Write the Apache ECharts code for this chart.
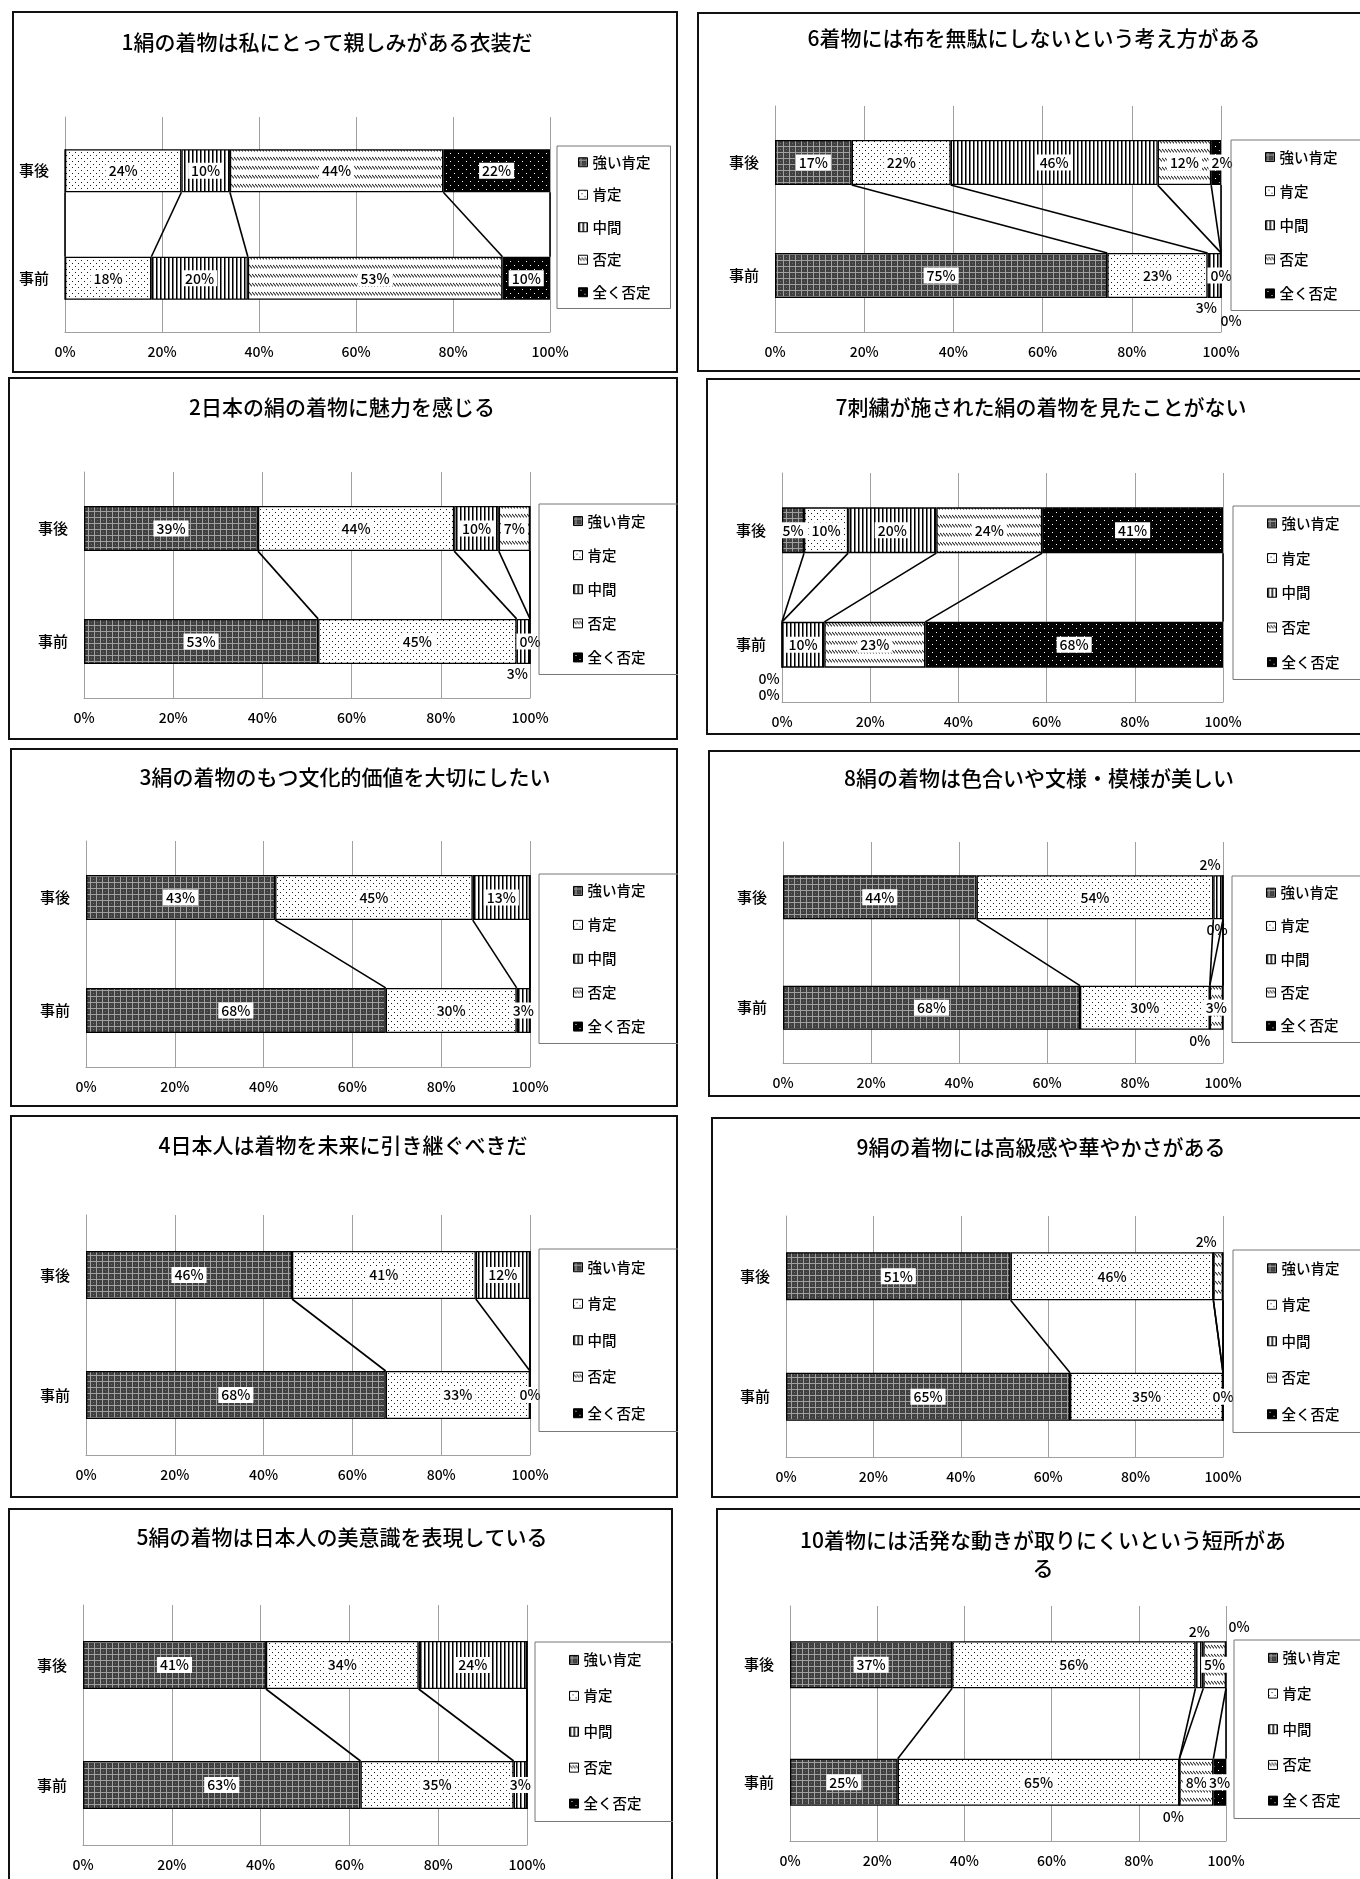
<!DOCTYPE html>
<html><head><meta charset="utf-8">
<script src="https://cdn.jsdelivr.net/npm/echarts@6/dist/echarts.min.js"></script>
<style>
html,body{margin:0;padding:0;background:#fff;width:1360px;height:1879px;overflow:hidden;position:relative}
.frame{position:absolute;border:2px solid #111;box-sizing:border-box}
.chart{position:absolute}
</style></head><body>
<script>
// ---------- data ----------
const categories = ['事前', '事後'];
const seriesNames = ['強い肯定', '肯定', '中間', '否定', '全く否定'];
const xTicks = [0, 20, 40, 60, 80, 100];
const titles = [
  '1絹の着物は私にとって親しみがある衣装だ',
  '2日本の絹の着物に魅力を感じる',
  '3絹の着物のもつ文化的価値を大切にしたい',
  '4日本人は着物を未来に引き継ぐべきだ',
  '5絹の着物は日本人の美意識を表現している',
  '6着物には布を無駄にしないという考え方がある',
  '7刺繍が施された絹の着物を見たことがない',
  '8絹の着物は色合いや文様・模様が美しい',
  '9絹の着物には高級感や華やかさがある',
  '10着物には活発な動きが取りにくいという短所があ\nる'
];
// values in order: 強い肯定, 肯定, 中間, 否定, 全く否定 (%)
const q1After  = [0, 24, 10, 44, 22];
const q1Before = [0, 17.8, 19.9, 52.5, 9.8];
const q2After  = [39, 44, 10, 7, 0];
const q2Before = [52.5, 44.5, 3, 0, 0];
const q3After  = [42.6, 44.5, 12.9, 0, 0];
const q3Before = [67.5, 29.5, 3, 0, 0];
const q4After  = [46.4, 41.4, 12.2, 0, 0];
const q4Before = [67.5, 32.5, 0, 0, 0];
const q5After  = [41.2, 34.4, 24.4, 0, 0];
const q5Before = [62.5, 34.5, 3, 0, 0];
const q6After  = [17.2, 22.2, 46.4, 12.0, 2.2];
const q6Before = [74.5, 22.5, 3, 0, 0];
const q7After  = [5, 10, 20, 24, 41];
const q7Before = [0, 0, 9.6, 22.9, 67.5];
const q8After  = [44, 53.8, 2.2, 0, 0];
const q8Before = [67.5, 29.5, 0, 3, 0];
const q9After  = [51.4, 46.4, 0, 2.2, 0];
const q9Before = [65, 35, 0, 0, 0];
const q10After  = [37.2, 55.8, 1.8, 5.2, 0];
const q10Before = [24.7, 64.6, 0, 7.8, 2.9];

const afterValues  = [q1After, q2After, q3After, q4After, q5After, q6After, q7After, q8After, q9After, q10After];
const beforeValues = [q1Before, q2Before, q3Before, q4Before, q5Before, q6Before, q7Before, q8Before, q9Before, q10Before];

// ---------- layout / style ----------
const F = '"Noto Sans CJK JP", "Noto Sans", sans-serif';
// f: frame [x,y,w,h]; p: plot [left,right,top,bottom]; t: title centre; lg: legend [x,y,w,h,padLeft]
const layout = [
  {f:[12,11,666,362],  p:[65,550,117,332],    t:[327,42],    lg:[557,146,113,160,21]},
  {f:[8,377,670,363],  p:[84,530,472,698],    t:[342,407],   lg:[539,504,145,168,34]},
  {f:[10,748,668,359], p:[86,530,841,1067],   t:[345,777],   lg:[539,874,145,167,34]},
  {f:[10,1115,668,383],p:[86,530,1215,1455],  t:[343,1145],  lg:[539,1249,145,180,34]},
  {f:[8,1508,665,380], p:[83,527,1605,1845],  t:[342,1537],  lg:[535,1642,139,177,34]},
  {f:[697,12,670,360], p:[775,1221,106,332],  t:[1034,38],   lg:[1231,140,140,168,34]},
  {f:[706,378,660,357],p:[782,1223,473,702],  t:[1041,407],  lg:[1233,506,140,171,34]},
  {f:[708,750,660,347],p:[783,1223,842,1063], t:[1039,778],  lg:[1232,876,140,164,34]},
  {f:[711,1117,660,381],p:[786,1223,1216,1457],t:[1041,1147],lg:[1233,1250,140,180,34]},
  {f:[716,1508,660,380],p:[790,1226,1606,1841],t:[1043,1554],lg:[1234,1640,140,176,34]}
];
// label placement tweaks, key = categoryIndex-seriesIndex (0 = 事前, 1 = 事後)
const labelTweaks = [
  {},
  {'0-2':{pos:'bottom',dx:-6}, '0-3':{pos:'inside'}},
  {'0-2':{pos:'inside'}},
  {'0-2':{pos:'inside'}},
  {'0-2':{pos:'inside'}},
  {'1-4':{pos:'inside',dx:6}, '0-2':{pos:'bottom',dx:-8}, '0-3':{pos:'inside'}, '0-4':{pos:'bottom',dx:10,dy:12}},
  {'0-0':{pos:'bottom',dx:-13}, '0-1':{pos:'bottom',dx:-13,dy:16}},
  {'1-2':{pos:'top',dx:-8}, '1-3':{pos:'bottom',dx:-6}, '0-2':{pos:'bottom',dx:-10}},
  {'1-3':{pos:'top',dx:-12}, '0-2':{pos:'inside'}},
  {'1-2':{pos:'top'}, '1-4':{pos:'top',dx:13,dy:-4}, '0-2':{pos:'bottom',dx:-6}}
];

function makePattern(type){
  const c = document.createElement('canvas');
  let ctx;
  if (type === 0) { // dark checker
    c.width = 6; c.height = 6; ctx = c.getContext('2d');
    ctx.fillStyle = '#404040'; ctx.fillRect(0,0,6,6);
    ctx.fillStyle = '#a0a0a0'; ctx.fillRect(0,2,6,1); ctx.fillRect(2,0,1,6);
    ctx.fillStyle = '#6a6a6a'; ctx.fillRect(5,5,1,1);
  } else if (type === 1) { // dots
    c.width = 6; c.height = 6; ctx = c.getContext('2d');
    ctx.fillStyle = '#fff'; ctx.fillRect(0,0,6,6);
    ctx.fillStyle = '#1a1a1a'; ctx.fillRect(0,0,1,1); ctx.fillRect(3,3,1,1);
  } else if (type === 2) { // vertical lines
    c.width = 4; c.height = 4; ctx = c.getContext('2d');
    ctx.fillStyle = '#fff'; ctx.fillRect(0,0,4,4);
    ctx.fillStyle = '#000'; ctx.fillRect(0,0,1,4);
    ctx.fillStyle = '#777'; ctx.fillRect(1,0,1,4);
  } else if (type === 3) { // rows of small diagonal strokes
    c.width = 3; c.height = 9; ctx = c.getContext('2d');
    ctx.fillStyle = '#fff'; ctx.fillRect(0,0,3,9);
    ctx.strokeStyle = '#222'; ctx.lineWidth = 1.1;
    ctx.beginPath(); ctx.moveTo(0,2); ctx.lineTo(3,5.5); ctx.stroke();
  } else { // black with white dots
    c.width = 8; c.height = 8; ctx = c.getContext('2d');
    ctx.fillStyle = '#000'; ctx.fillRect(0,0,8,8);
    ctx.fillStyle = '#fff'; ctx.fillRect(2,2,1,1); ctx.fillRect(6,6,1,1);
  }
  return {image: c, repeat: 'repeat'};
}
const patterns = [0,1,2,3,4].map(makePattern);

function cumulative(arr){ let s = 0; return arr.map(v => (s += v)); }

function buildOption(k){
  const L = layout[k];
  const fx = L.f[0], fy = L.f[1];
  const before = beforeValues[k], after = afterValues[k];
  const tw = labelTweaks[k];
  const series = seriesNames.map((name, s) => ({
    name, type: 'bar', stack: 'all', barWidth: '40%',
    itemStyle: {color: patterns[s], borderColor: '#000', borderWidth: 1.3},
    label: {show: true, position: 'inside', formatter: p => Math.round(p.value) + '%',
            color: '#000', fontSize: 14, fontWeight: 500, fontFamily: F, backgroundColor: '#fff', padding: [1,3]},
    data: [before[s], after[s]].map((v, ci) => {
      const t = tw[ci + '-' + s];
      let label;
      if (t) {
        const inside = t.pos === 'inside';
        label = {show: true, position: t.pos, offset: [t.dx || 0, t.dy || 0],
                 backgroundColor: inside ? '#fff' : 'transparent', padding: inside ? [1,3] : 0, distance: 3};
      } else {
        label = {show: v > 0};
      }
      return {value: v, label};
    })
  }));
  const ca = cumulative(after), cb = cumulative(before);
  series.push({
    type: 'custom', silent: true, z: 10,
    encode: {x: [0, 1], y: 2},
    data: ca.map((v, i) => [v, cb[i], 0]),
    renderItem: (params, api) => {
      const p1 = api.coord([api.value(0), 1]);
      const p2 = api.coord([api.value(1), 0]);
      const h = api.size([0, 1])[1] * 0.2;
      return {type: 'line', shape: {x1: p1[0], y1: p1[1] + h, x2: p2[0], y2: p2[1] - h},
              style: {stroke: '#000', lineWidth: 1.6}};
    }
  });
  const lg = L.lg;
  const lh = lg[3];
  const padV = lh / 10 - 7;
  return {
    animation: false,
    graphic: [{
      type: 'text', x: L.t[0] - fx, y: L.t[1] - fy,
      style: {text: titles[k], fill: '#000', font: '500 21px ' + F, textAlign: 'center', textVerticalAlign: 'middle', lineHeight: 28}
    }],
    grid: {left: L.p[0] - fx, top: L.p[2] - fy, width: L.p[1] - L.p[0], height: L.p[3] - L.p[2], containLabel: false},
    xAxis: {type: 'value', min: xTicks[0], max: xTicks[xTicks.length - 1], interval: xTicks[1] - xTicks[0],
            axisLabel: {formatter: '{value}%', fontSize: 14, fontWeight: 500, fontFamily: F, color: '#000', margin: 13},
            axisLine: {show: true, lineStyle: {color: '#a0a0a0'}}, axisTick: {show: false},
            splitLine: {show: true, lineStyle: {color: '#a0a0a0', width: 1}}},
    yAxis: {type: 'category', data: categories,
            axisLabel: {fontSize: 15, fontWeight: 500, fontFamily: F, color: '#000', margin: 16},
            axisLine: {show: true, lineStyle: {color: '#a0a0a0'}}, axisTick: {show: false}},
    legend: {
      data: seriesNames, orient: 'vertical', left: lg[0] - fx, top: lg[1] - fy,
      padding: [padV, lg[2] - lg[4] - 72, padV, lg[4]],
      itemGap: lh / 5 - 14, itemWidth: 9, itemHeight: 9, icon: 'rect',
      borderColor: '#777', borderWidth: 1,
      itemStyle: {borderColor: '#000', borderWidth: 1},
      textStyle: {fontSize: 14.5, fontWeight: 500, fontFamily: F, color: '#000', lineHeight: 14}
    },
    series
  };
}

layout.forEach((L, k) => {
  const fr = document.createElement('div');
  fr.className = 'frame';
  fr.style.cssText = `left:${L.f[0]}px;top:${L.f[1]}px;width:${L.f[2]}px;height:${L.f[3]}px`;
  document.body.appendChild(fr);
  const d = document.createElement('div');
  d.className = 'chart';
  d.style.cssText = `left:${L.f[0]}px;top:${L.f[1]}px;width:${L.f[2]}px;height:${L.f[3]}px`;
  document.body.appendChild(d);
  const chart = echarts.init(d, null, {renderer: 'canvas'});
  chart.setOption(buildOption(k));
});
</script>
</body></html>
